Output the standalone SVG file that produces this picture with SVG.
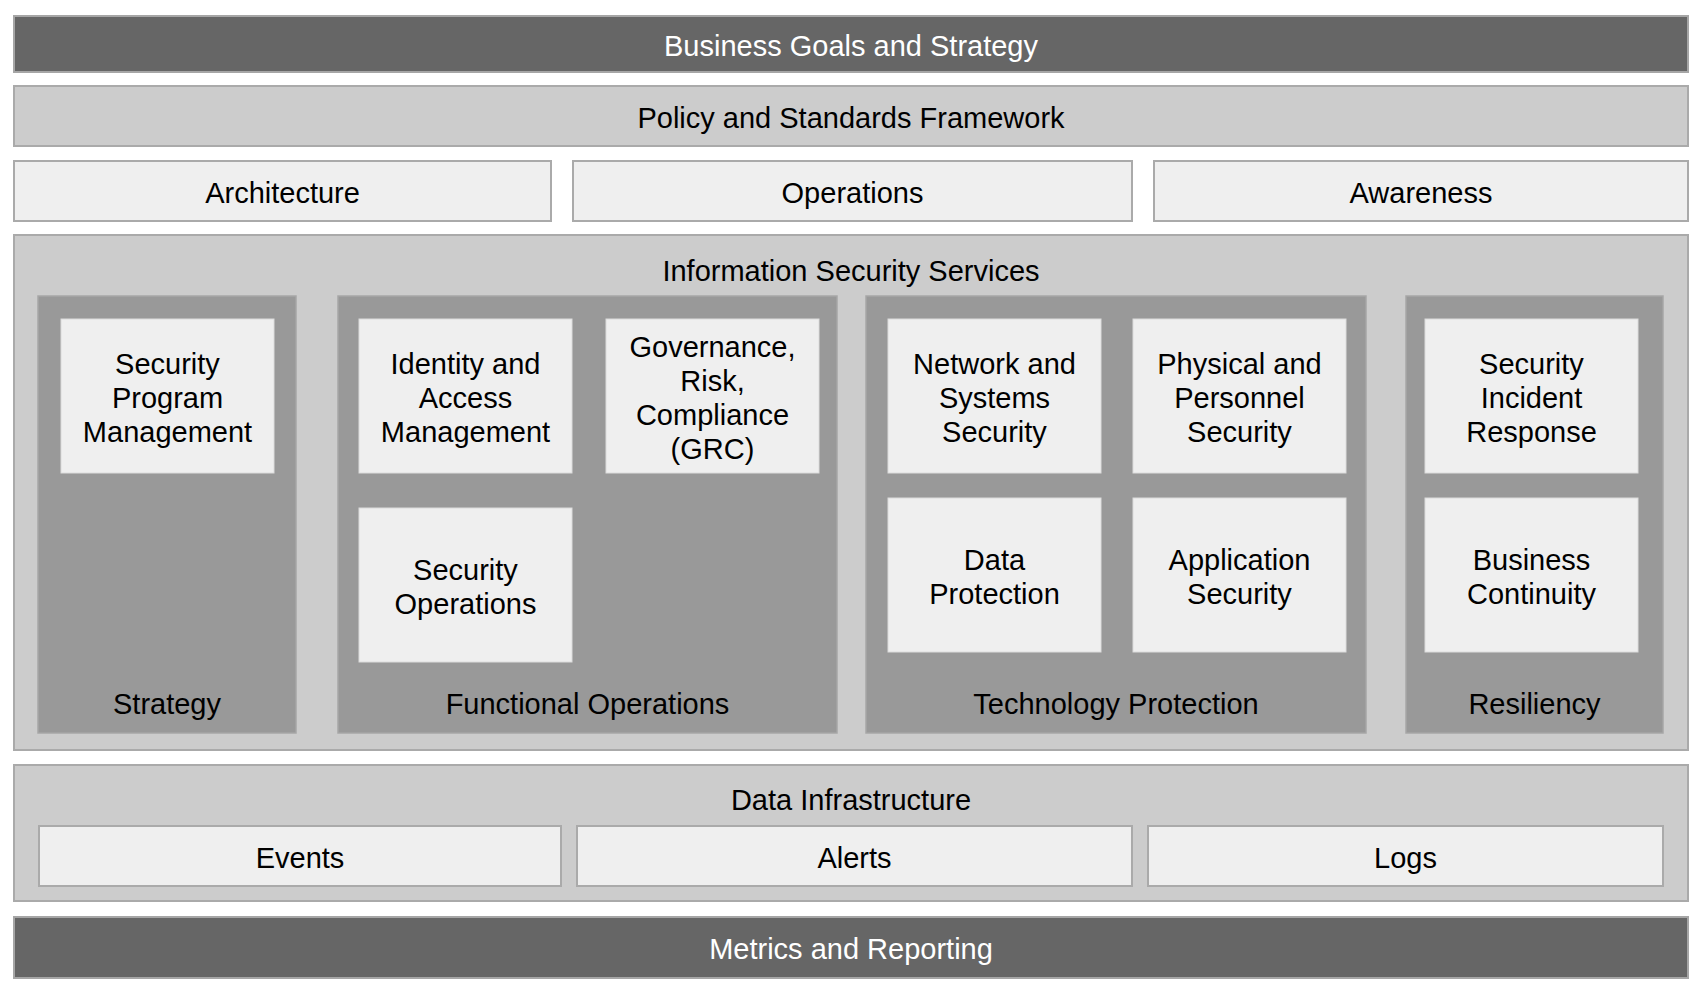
<svg xmlns="http://www.w3.org/2000/svg" width="1700" height="994" viewBox="0 0 1700 994">
<style>
text{font-family:"Liberation Sans",Arial,sans-serif;font-size:29px;fill:#000;text-anchor:middle}
.dark{fill:#666666;stroke:#a6a6a6;stroke-width:2}
.mid{fill:#cccccc;stroke:#aaaaaa;stroke-width:2}
.bar{fill:#efefef;stroke:#aaaaaa;stroke-width:2}
.col{fill:#999999;stroke:#a6a6a6;stroke-width:1.5}
.box{fill:#efefef;stroke:#dcdcdc;stroke-width:1}
.w{fill:#ffffff}
</style>
<rect width="1700" height="994" fill="#ffffff"/>
<g id="business-goals"><rect class="dark" x="14" y="16" width="1674" height="56"/><text class="w" x="851" y="55.5">Business Goals and Strategy</text></g>
<g id="policy"><rect class="mid" x="14" y="86" width="1674" height="60"/><text x="851" y="127.5">Policy and Standards Framework</text></g>
<g id="architecture"><rect class="bar" x="14" y="161" width="537" height="60"/><text x="282.5" y="202.5">Architecture</text></g>
<g id="operations"><rect class="bar" x="573" y="161" width="559" height="60"/><text x="852.5" y="202.5">Operations</text></g>
<g id="awareness"><rect class="bar" x="1154" y="161" width="534" height="60"/><text x="1421" y="202.5">Awareness</text></g>
<g id="info-sec-services"><rect class="mid" x="14" y="235" width="1674" height="515"/><text x="851" y="280.5">Information Security Services</text></g>
<g id="strategy"><rect class="col" x="38" y="296" width="258" height="437"/><text x="167" y="713.5">Strategy</text></g>
<g id="functional-operations"><rect class="col" x="338" y="296" width="499" height="437"/><text x="587.5" y="713.5">Functional Operations</text></g>
<g id="technology-protection"><rect class="col" x="866" y="296" width="500" height="437"/><text x="1116" y="713.5">Technology Protection</text></g>
<g id="resiliency"><rect class="col" x="1406" y="296" width="257" height="437"/><text x="1534.5" y="713.5">Resiliency</text></g>
<g id="security-program-management"><rect class="box" x="61" y="319" width="213" height="154"/><text x="167.5" y="373.5">Security</text><text x="167.5" y="407.5">Program</text><text x="167.5" y="441.5">Management</text></g>
<g id="iam"><rect class="box" x="359" y="319" width="213" height="154"/><text x="465.5" y="373.5">Identity and</text><text x="465.5" y="407.5">Access</text><text x="465.5" y="441.5">Management</text></g>
<g id="grc"><rect class="box" x="606" y="319" width="213" height="154"/><text x="712.5" y="356.5">Governance,</text><text x="712.5" y="390.5">Risk,</text><text x="712.5" y="424.5">Compliance</text><text x="712.5" y="458.5">(GRC)</text></g>
<g id="security-operations"><rect class="box" x="359" y="508" width="213" height="154"/><text x="465.5" y="579.5">Security</text><text x="465.5" y="613.5">Operations</text></g>
<g id="network-systems-security"><rect class="box" x="888" y="319" width="213" height="154"/><text x="994.5" y="373.5">Network and</text><text x="994.5" y="407.5">Systems</text><text x="994.5" y="441.5">Security</text></g>
<g id="physical-personnel-security"><rect class="box" x="1133" y="319" width="213" height="154"/><text x="1239.5" y="373.5">Physical and</text><text x="1239.5" y="407.5">Personnel</text><text x="1239.5" y="441.5">Security</text></g>
<g id="data-protection"><rect class="box" x="888" y="498" width="213" height="154"/><text x="994.5" y="569.5">Data</text><text x="994.5" y="603.5">Protection</text></g>
<g id="application-security"><rect class="box" x="1133" y="498" width="213" height="154"/><text x="1239.5" y="569.5">Application</text><text x="1239.5" y="603.5">Security</text></g>
<g id="security-incident-response"><rect class="box" x="1425" y="319" width="213" height="154"/><text x="1531.5" y="373.5">Security</text><text x="1531.5" y="407.5">Incident</text><text x="1531.5" y="441.5">Response</text></g>
<g id="business-continuity"><rect class="box" x="1425" y="498" width="213" height="154"/><text x="1531.5" y="569.5">Business</text><text x="1531.5" y="603.5">Continuity</text></g>
<g id="data-infrastructure"><rect class="mid" x="14" y="765" width="1674" height="136"/><text x="851" y="809.5">Data Infrastructure</text></g>
<g id="events"><rect class="bar" x="39" y="826" width="522" height="60"/><text x="300" y="867.5">Events</text></g>
<g id="alerts"><rect class="bar" x="577" y="826" width="555" height="60"/><text x="854.5" y="867.5">Alerts</text></g>
<g id="logs"><rect class="bar" x="1148" y="826" width="515" height="60"/><text x="1405.5" y="867.5">Logs</text></g>
<g id="metrics-reporting"><rect class="dark" x="14" y="917" width="1674" height="61"/><text class="w" x="851" y="959">Metrics and Reporting</text></g>
<g id="connectors"></g>
</svg>
